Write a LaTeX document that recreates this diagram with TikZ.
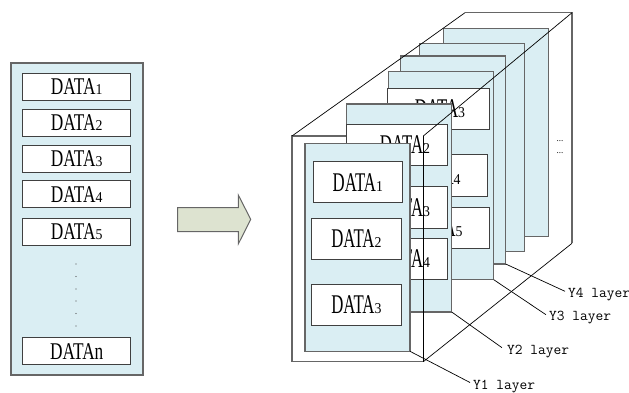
\documentclass[tikz,border=0pt]{standalone}
\usepackage{fontspec}
\setmainfont{Liberation Serif}
\newfontfamily\fontLft[FakeStretch=0.72]{Liberation Serif}
\newfontfamily\fontRgt[FakeStretch=0.62]{Liberation Serif}
\newfontfamily\fontDig[FakeStretch=0.92]{Liberation Serif}
\definecolor{layerblue}{HTML}{DAEEF3}
\definecolor{arrowfill}{HTML}{DDE3D0}
\definecolor{edgegray}{HTML}{666666}
\definecolor{boxedge}{HTML}{404040}
\newcommand\dataLft[1]{{\fontLft\fontsize{24}{24}\selectfont DATA{\fontDig\fontsize{15}{15}\selectfont #1}}}
\newcommand\dataRgt[1]{{\fontRgt\fontsize{27}{27}\selectfont DATA{\fontDig\fontsize{15}{15}\selectfont #1}}}
\begin{document}
\begin{tikzpicture}[x=1pt,y=-1pt,
  panel/.style={draw=edgegray, fill=layerblue, line width=1.2pt, inner sep=0pt, outer sep=0pt, anchor=north west},
  databox/.style={draw=boxedge, fill=white, line width=0.9pt, inner sep=0pt, outer sep=0pt, anchor=north west},
  lbox/.style={databox, minimum width=108pt, minimum height=27pt},
  layer/.style={panel, minimum width=105pt, minimum height=208pt},
  rbox/.style={databox, minimum width=101pt, minimum height=41pt},
  face/.style={draw=edgegray, fill=white, line width=1.2pt, inner sep=0pt, outer sep=0pt, anchor=north west},
  cube/.style={draw=black, line width=0.7pt},
  cubegray/.style={draw=edgegray, line width=1.2pt},
  leader/.style={draw=black, line width=0.7pt},
  lab/.style={font=\ttfamily\fontsize{15}{15}\selectfont, anchor=west, inner sep=0pt},
  dotlab/.style={font=\fontsize{9}{9}\selectfont, inner sep=0pt}
]
\useasboundingbox (0,0) rectangle (629,392);

% ---------- left panel ----------
\node[panel, minimum width=132pt, minimum height=312pt] (lpanel) at (11,63) {};
\node[lbox] (lb1) at (22.7,73.3) {\dataLft{1}};
\node[lbox] (lb2) at (22.7,109.3) {\dataLft{2}};
\node[lbox] (lb3) at (22.7,145) {\dataLft{3}};
\node[lbox] (lb4) at (22.7,180.7) {\dataLft{4}};
\node[lbox] (lb5) at (22.7,218.3) {\dataLft{5}};
\node[lbox] (lbn) at (22.7,337.7) {{\fontLft\fontsize{24}{24}\selectfont DATAn}};
\foreach \i/\yy in {1/264,2/276.5,3/289,4/301,5/313.5,6/326}
  \fill[black!70] (76,\yy) circle (0.6pt);

% ---------- arrow ----------
\draw[draw=edgegray, fill=arrowfill, line width=1pt, line join=miter]
  (177.7,207.7) -- (238.3,207.7) -- (238.3,195) -- (250.7,219.3)
  -- (238.3,244) -- (238.3,231.7) -- (177.7,231.7) -- cycle;

% ---------- cuboid back edges ----------
\coordinate (ftl) at (292,136);
\coordinate (ftr) at (423.3,136);
\coordinate (fbr) at (423.3,361.7);
\coordinate (btl) at (465,12.7);
\coordinate (btr) at (572,12.7);
\coordinate (bbr) at (572,243.3);
\draw[cubegray] (btl) -- (btr) -- (bbr);

% front face
\node[face, minimum width=131.3pt, minimum height=225.7pt] (front) at (292,136) {};

% ---------- layers ----------
\node[layer] (L6) at (443.3,28.3) {};
\node[layer] (L5) at (419.3,43.3) {};
\node[layer] (L4) at (400.7,56) {};
\node[layer] (L3) at (388.7,71.7) {};
\node[rbox, minimum width=101.7pt] (b31) at (387.3,88.3) {};
\node[rbox, minimum width=99.3pt, minimum height=41.7pt] (b32) at (388,154.3) {};
\node[rbox, minimum width=101.3pt] (b33) at (388,207.3) {};
\node (t31) at (440,109) {\dataRgt{3}};
\node (t32) at (435.5,175.5) {\dataRgt{4}};
\node (t33) at (437.5,228) {\dataRgt{5}};

\node[layer] (L2) at (346.7,104) {};
\node[rbox, minimum width=100.6pt, minimum height=40.7pt] (b21) at (346.7,124.3) {};
\node[rbox, minimum width=100.6pt, minimum height=41.6pt] (b22) at (346.7,186.7) {};
\node[rbox, minimum width=100.6pt] (b23) at (346.7,238.3) {};
\node (t21) at (405,145) {\dataRgt{2}};
\node (t22) at (405,207.5) {\dataRgt{3}};
\node (t23) at (405,259) {\dataRgt{4}};

% black cuboid lines over the layers
\draw[cube] (ftr) -- (fbr);
\draw[cube] (ftl) -- (btl);
\draw[cube] (ftr) -- (btr);
\draw[cube] (fbr) -- (bbr);

\node[layer] (L1) at (305,143.3) {};
\node[rbox, minimum width=89pt] (b11) at (313.3,161.7) {\dataRgt{1}};
\node[rbox, minimum width=89.3pt] (b12) at (311.7,218.3) {\dataRgt{2}};
\node[rbox, minimum width=89.3pt, minimum height=41.3pt] (b13) at (311.7,284.3) {\dataRgt{3}};

% dots
\node[dotlab] (dots1) at (560,141.5) {...};
\node[dotlab] (dots2) at (560,153) {...};

% ---------- layer labels ----------
\node[lab] (Y4) at (568,294.3) {Y4 layer};
\node[lab] (Y3) at (549,317.7) {Y3 layer};
\node[lab] (Y2) at (507,351.7) {Y2 layer};
\node[lab] (Y1) at (473,386.5) {Y1 layer};
\draw[leader] (L4.south east) -- ([xshift=-3pt,yshift=3pt]Y4.west);
\draw[leader] (L3.south east) -- ([xshift=-3pt,yshift=3pt]Y3.west);
\draw[leader] (L2.south east) -- ([xshift=-5pt,yshift=4pt]Y2.west);
\draw[leader] (L1.south east) -- ([xshift=-3pt,yshift=4pt]Y1.west);
\end{tikzpicture}
\end{document}
